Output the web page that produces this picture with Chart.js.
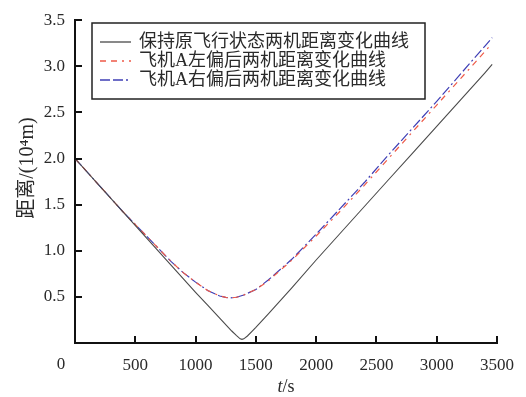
<!DOCTYPE html>
<html><head><meta charset="utf-8">
<script src="https://cdn.jsdelivr.net/npm/chart.js@4.4.0/dist/chart.umd.min.js"></script>
<style>html,body{margin:0;padding:0;background:#fff}#wrap{width:526px;height:397px}</style>
</head><body><div id="wrap"><canvas id="c" width="526" height="397"></canvas></div>
<script>
const seriesNames = ['保持原飞行状态两机距离变化曲线', '飞机A左偏后两机距离变化曲线', '飞机A右偏后两机距离变化曲线'];
const xTitleItalic = 't';
const xTitleRest = '/s';
const yTitle = '距离/(10⁴m)';
const originLabel = '0';

const tOriginal = [0, 200, 400, 600, 800, 1000, 1100, 1200, 1300, 1340, 1370, 1385, 1400, 1430, 1470, 1500, 1600, 1800, 2000, 2200, 2400, 2600, 2800, 3000, 3200, 3400, 3460];
const dOriginal = [2.00, 1.71, 1.42, 1.13, 0.84, 0.55, 0.41, 0.27, 0.13, 0.08, 0.045, 0.04, 0.045, 0.076, 0.13, 0.17, 0.31, 0.60, 0.90, 1.19, 1.48, 1.77, 2.06, 2.35, 2.64, 2.93, 3.02];

const tLeft = [0, 200, 400, 600, 800, 900, 1000, 1100, 1200, 1250, 1290, 1340, 1400, 1500, 1600, 1800, 2000, 2200, 2400, 2600, 2800, 3000, 3200, 3400, 3440];
const dLeft = [2.00, 1.71, 1.42, 1.15, 0.88, 0.76, 0.66, 0.57, 0.51, 0.495, 0.49, 0.496, 0.52, 0.58, 0.67, 0.90, 1.16, 1.43, 1.71, 2.00, 2.29, 2.58, 2.87, 3.16, 3.22];

const tRight = [0, 200, 400, 600, 800, 900, 1000, 1100, 1200, 1250, 1290, 1340, 1400, 1500, 1600, 1800, 2000, 2200, 2400, 2600, 2800, 3000, 3200, 3400, 3460];
const dRight = [2.00, 1.71, 1.42, 1.15, 0.88, 0.76, 0.66, 0.57, 0.51, 0.495, 0.49, 0.496, 0.52, 0.58, 0.68, 0.91, 1.18, 1.46, 1.74, 2.04, 2.33, 2.62, 2.92, 3.22, 3.31];

const xTickValues = [0, 500, 1000, 1500, 2000, 2500, 3000, 3500];
const yTickValues = [0, 0.5, 1.0, 1.5, 2.0, 2.5, 3.0, 3.5];

const toPts = (ts, ds) => ts.map((t, i) => ({x: t, y: ds[i]}));

const serifFont = '"Liberation Serif", "Noto Sans CJK SC", serif';
const textColor = '#2a2a2a';

const decor = {
  id: 'decor',
  afterDraw(chart) {
    const {ctx, chartArea: ca, scales: {x, y}} = chart;
    ctx.save();
    // inward ticks
    ctx.strokeStyle = '#111';
    ctx.lineWidth = 2;
    xTickValues.forEach(v => {
      if (v === 0) return;
      const px = Math.round(x.getPixelForValue(v));
      ctx.beginPath(); ctx.moveTo(px, ca.bottom); ctx.lineTo(px, ca.bottom - 7); ctx.stroke();
    });
    yTickValues.forEach(v => {
      if (v === 0) return;
      const py = Math.round(y.getPixelForValue(v));
      ctx.beginPath(); ctx.moveTo(ca.left, py); ctx.lineTo(ca.left + 7, py); ctx.stroke();
    });
    // origin label
    ctx.fillStyle = textColor;
    ctx.font = '17px ' + serifFont;
    ctx.textAlign = 'center';
    ctx.textBaseline = 'middle';
    ctx.fillText(originLabel, x.getPixelForValue(0) - 14, ca.bottom + 22);
    // x title
    const cx = (ca.left + ca.right) / 2, cy = ca.bottom + 44;
    ctx.font = 'italic 18px ' + serifFont;
    const w1 = ctx.measureText(xTitleItalic).width;
    ctx.font = '18px ' + serifFont;
    const w2 = ctx.measureText(xTitleRest).width;
    ctx.textAlign = 'left';
    let sx = cx - (w1 + w2) / 2;
    ctx.font = 'italic 18px ' + serifFont;
    ctx.fillText(xTitleItalic, sx, cy);
    ctx.font = '18px ' + serifFont;
    ctx.fillText(xTitleRest, sx + w1, cy);
    // y title
    ctx.save();
    ctx.translate(28, 168);
    ctx.rotate(-Math.PI / 2);
    ctx.textAlign = 'center';
    ctx.font = '20px ' + serifFont;
    ctx.fillText(yTitle, 0, 0);
    ctx.restore();
    // legend
    const bx = 92, by = 23, bw = 333, bh = 76;
    ctx.fillStyle = '#fff';
    ctx.fillRect(bx, by, bw, bh);
    ctx.strokeStyle = '#222';
    ctx.lineWidth = 1.5;
    ctx.strokeRect(bx, by, bw, bh);
    chart.data.datasets.forEach((ds, i) => {
      const ry = 42 + i * 19;
      ctx.strokeStyle = ds.borderColor;
      ctx.lineWidth = 1.3;
      ctx.setLineDash(ds.borderDash || []);
      ctx.beginPath(); ctx.moveTo(100, ry); ctx.lineTo(131, ry); ctx.stroke();
      ctx.setLineDash([]);
      ctx.fillStyle = textColor;
      ctx.font = '18px ' + serifFont;
      ctx.textAlign = 'left';
      ctx.textBaseline = 'middle';
      ctx.fillText(ds.label, 139, ry);
    });
    ctx.restore();
  }
};

new Chart(document.getElementById('c'), {
  type: 'line',
  data: {
    datasets: [
      {label: seriesNames[0], data: toPts(tOriginal, dOriginal), borderColor: '#4a4a4a', borderWidth: 1.1, pointRadius: 0, fill: false},
      {label: seriesNames[1], data: toPts(tLeft, dLeft), borderColor: '#ee5a48', borderWidth: 1.2, borderDash: [6, 5, 6, 5, 2, 5], pointRadius: 0, fill: false},
      {label: seriesNames[2], data: toPts(tRight, dRight), borderColor: '#3f3fb5', borderWidth: 1.2, borderDash: [10, 3, 10, 3, 2, 3], pointRadius: 0, fill: false}
    ]
  },
  options: {
    responsive: false,
    animation: false,
    devicePixelRatio: 1,
    layout: {padding: {top: 17, right: 26, left: 0, bottom: 0}},
    plugins: {legend: {display: false}, tooltip: {enabled: false}},
    scales: {
      x: {
        type: 'linear', min: 0, max: 3500,
        afterFit: s => { s.height = 54; },
        afterBuildTicks: s => { s.ticks = xTickValues.map(v => ({value: v})); },
        ticks: {
          padding: 12, color: textColor, font: {family: serifFont, size: 17},
          maxRotation: 0, autoSkip: false,
          callback: v => v === 0 ? '' : String(v)
        },
        grid: {display: false, drawTicks: false},
        border: {display: true, color: '#111', width: 2}
      },
      y: {
        type: 'linear', min: 0, max: 3.5,
        afterFit: s => { s.width = 75; },
        afterBuildTicks: s => { s.ticks = yTickValues.map(v => ({value: v})); },
        ticks: {
          padding: 10, color: textColor, font: {family: serifFont, size: 17},
          autoSkip: false,
          callback: v => v === 0 ? '' : Number(v).toFixed(1)
        },
        grid: {display: false, drawTicks: false},
        border: {display: true, color: '#111', width: 2}
      }
    }
  },
  plugins: [decor]
});
</script>
</body></html>
